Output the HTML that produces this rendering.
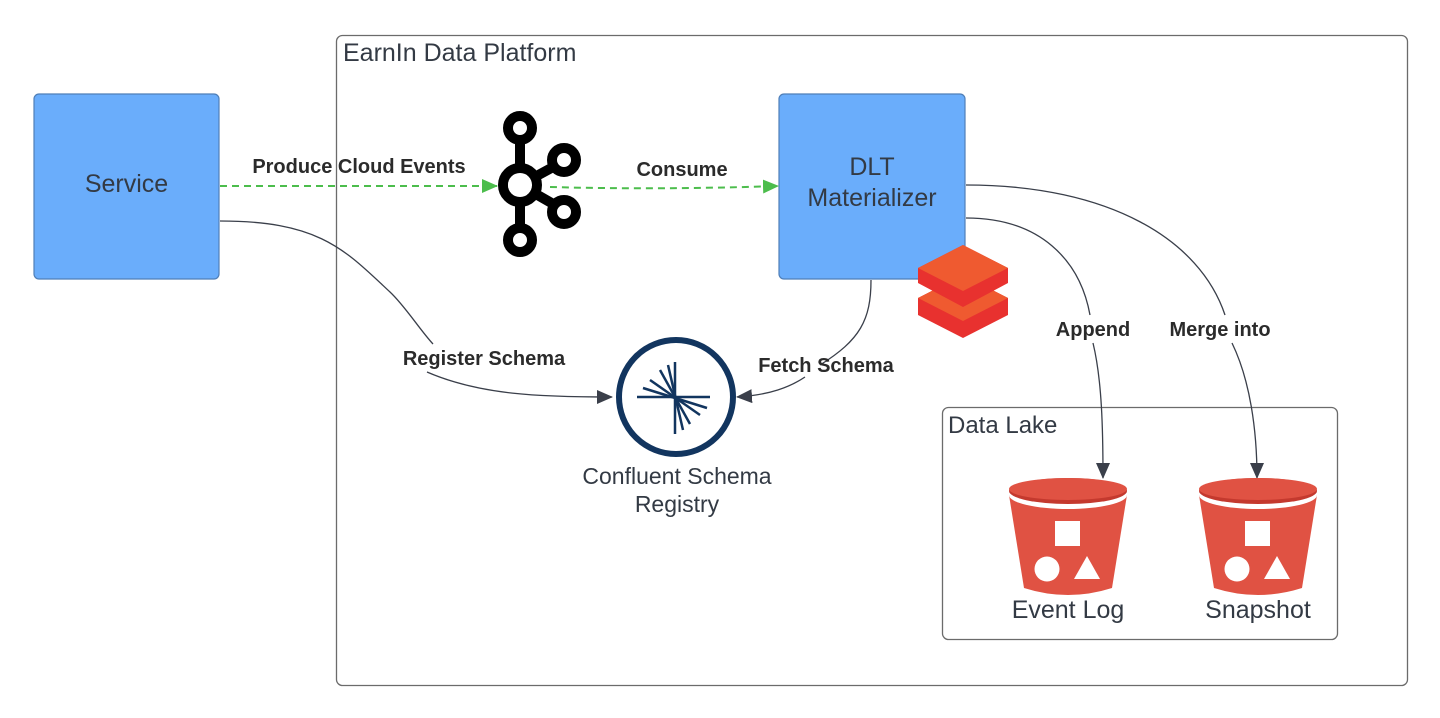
<!DOCTYPE html>
<html><head><meta charset="utf-8"><style>
html,body{margin:0;padding:0;background:#fff;}
svg{display:block;}
text{font-family:"Liberation Sans",sans-serif;}
</style></head><body>
<svg width="1440" height="718" viewBox="0 0 1440 718" xmlns="http://www.w3.org/2000/svg">
<defs>
<marker id="ag" markerWidth="16" markerHeight="14" refX="15" refY="7" orient="auto" markerUnits="userSpaceOnUse"><path d="M0,0 L16,7 L0,14 z" fill="#4cbd4c"/></marker>
<marker id="ak" markerWidth="16" markerHeight="14" refX="15" refY="7" orient="auto" markerUnits="userSpaceOnUse"><path d="M0,0 L16,7 L0,14 z" fill="#3a3f4a"/></marker>
</defs>
<rect width="1440" height="718" fill="#fff"/>
<rect x="336.5" y="35.5" width="1071" height="650" rx="6" fill="none" stroke="#6b6b6b" stroke-width="1.3"/>
<text x="343" y="61" font-size="25" fill="#333a44">EarnIn Data Platform</text>
<rect x="942.5" y="407.5" width="395" height="232" rx="6" fill="none" stroke="#6b6b6b" stroke-width="1.3"/>
<text x="948" y="433" font-size="24" fill="#333a44">Data Lake</text>
<rect x="34" y="94" width="185" height="185" rx="5" fill="#6aadfb" stroke="#4f7fb8" stroke-width="1.2"/>
<text x="126.5" y="192" font-size="25" fill="#333a44" text-anchor="middle">Service</text>
<rect x="779" y="94" width="186" height="185" rx="5" fill="#6aadfb" stroke="#4f7fb8" stroke-width="1.2"/>
<text x="872" y="175" font-size="25" fill="#333a44" text-anchor="middle">DLT</text>
<text x="872" y="206" font-size="25" fill="#333a44" text-anchor="middle">Materializer</text>
<!-- connectors -->
<line x1="220" y1="186" x2="497" y2="186" stroke="#4cbd4c" stroke-width="2" stroke-dasharray="7,5" marker-end="url(#ag)"/>
<path d="M550 187 Q660 190 778 186" fill="none" stroke="#4cbd4c" stroke-width="2" stroke-dasharray="7,5" marker-end="url(#ag)"/>
<path d="M220 221 C320 221 345 250 390 292 C405 306 420 330 433 344" fill="none" stroke="#3a3f4a" stroke-width="1.3"/>
<path d="M427 372 C480 395 540 397 612 397" fill="none" stroke="#3a3f4a" stroke-width="1.3" marker-end="url(#ak)"/>
<path d="M871 280 C871 320 860 340 820 365" fill="none" stroke="#3a3f4a" stroke-width="1.3"/>
<path d="M805 377 C790 387 770 395 737 397" fill="none" stroke="#3a3f4a" stroke-width="1.3" marker-end="url(#ak)"/>
<path d="M966 218 C1040 218 1080 260 1090 315" fill="none" stroke="#3a3f4a" stroke-width="1.3"/>
<path d="M1093 343 C1102 380 1103 430 1103 478" fill="none" stroke="#3a3f4a" stroke-width="1.3" marker-end="url(#ak)"/>
<path d="M966 185 C1110 185 1200 240 1225 315" fill="none" stroke="#3a3f4a" stroke-width="1.3"/>
<path d="M1232 343 C1250 380 1257 430 1257 478" fill="none" stroke="#3a3f4a" stroke-width="1.3" marker-end="url(#ak)"/>
<!-- labels -->
<rect x="246" y="153" width="226" height="26" fill="#fff"/>
<text x="359" y="173" font-size="20" font-weight="bold" fill="#2b2b2b" text-anchor="middle">Produce Cloud Events</text>
<line x1="336.5" y1="153" x2="336.5" y2="179" stroke="#6b6b6b" stroke-width="1.3"/>
<text x="682" y="176" font-size="20" font-weight="bold" fill="#2b2b2b" text-anchor="middle">Consume</text>
<text x="484" y="365" font-size="20" font-weight="bold" fill="#2b2b2b" text-anchor="middle">Register Schema</text>
<text x="826" y="372" font-size="20" font-weight="bold" fill="#2b2b2b" text-anchor="middle">Fetch Schema</text>
<text x="1093" y="336" font-size="20" font-weight="bold" fill="#2b2b2b" text-anchor="middle">Append</text>
<text x="1220" y="336" font-size="20" font-weight="bold" fill="#2b2b2b" text-anchor="middle">Merge into</text>
<!-- kafka -->
<g stroke="#000" fill="none" stroke-width="10">
<line x1="520" y1="140" x2="520" y2="227"/>
<line x1="520" y1="185" x2="555" y2="166"/>
<line x1="520" y1="185" x2="555" y2="205"/>
<circle cx="520" cy="128" r="12"/>
<circle cx="520" cy="185" r="17"/>
<circle cx="564" cy="160" r="12"/>
<circle cx="564" cy="212" r="12"/>
<circle cx="520" cy="240" r="12"/>
</g>
<circle cx="520" cy="185" r="12" fill="#fff"/>
<!-- confluent -->
<circle cx="676" cy="397" r="57" fill="none" stroke="#12355f" stroke-width="6"/>
<g stroke="#12355f" stroke-width="2.5">
<line x1="675" y1="362" x2="675" y2="434"/>
<line x1="637" y1="397" x2="710" y2="397"/>
<line x1="650" y1="380" x2="700" y2="415"/>
<line x1="660" y1="370" x2="690" y2="424"/>
<line x1="643" y1="388" x2="707" y2="408"/>
<line x1="668" y1="365" x2="683" y2="430"/>
</g>
<text x="677" y="484" font-size="23" fill="#333a44" text-anchor="middle">Confluent Schema</text>
<text x="677" y="512" font-size="23" fill="#333a44" text-anchor="middle">Registry</text>
<!-- databricks -->
<path d="M918 298 L963 275 L1008 298 L1008 315 L963 338 L918 315 z" fill="#e8312f"/>
<path d="M918 298 L963 275 L1008 298 L963 321 z" fill="#ef5a30"/>
<path d="M918 268 L963 245 L1008 268 L1008 283 L963 307 L918 283 z" fill="#e8312f"/>
<path d="M918 268 L963 245 L1008 268 L963 291 z" fill="#ef5a30"/>
<!-- buckets -->
<g>
<path d="M1009 495 L1127 495 L1112 588 Q1068 602 1024 588 z" fill="#e05243"/>
<ellipse cx="1068" cy="495" rx="59" ry="14" fill="#fff"/>
<ellipse cx="1068" cy="491" rx="59" ry="13" fill="#c4392e"/>
<ellipse cx="1068" cy="489" rx="59" ry="11" fill="#e05243"/>
<rect x="1055" y="521" width="25" height="25" fill="#fff"/>
<circle cx="1047" cy="569" r="12.5" fill="#fff"/>
<path d="M1087 556 L1100 579 L1074 579 z" fill="#fff"/>
</g>
<g transform="translate(190,0)">
<path d="M1009 495 L1127 495 L1112 588 Q1068 602 1024 588 z" fill="#e05243"/>
<ellipse cx="1068" cy="495" rx="59" ry="14" fill="#fff"/>
<ellipse cx="1068" cy="491" rx="59" ry="13" fill="#c4392e"/>
<ellipse cx="1068" cy="489" rx="59" ry="11" fill="#e05243"/>
<rect x="1055" y="521" width="25" height="25" fill="#fff"/>
<circle cx="1047" cy="569" r="12.5" fill="#fff"/>
<path d="M1087 556 L1100 579 L1074 579 z" fill="#fff"/>
</g>
<text x="1068" y="618" font-size="25" fill="#333a44" text-anchor="middle">Event Log</text>
<text x="1258" y="618" font-size="25" fill="#333a44" text-anchor="middle">Snapshot</text>
</svg>
</body></html>
